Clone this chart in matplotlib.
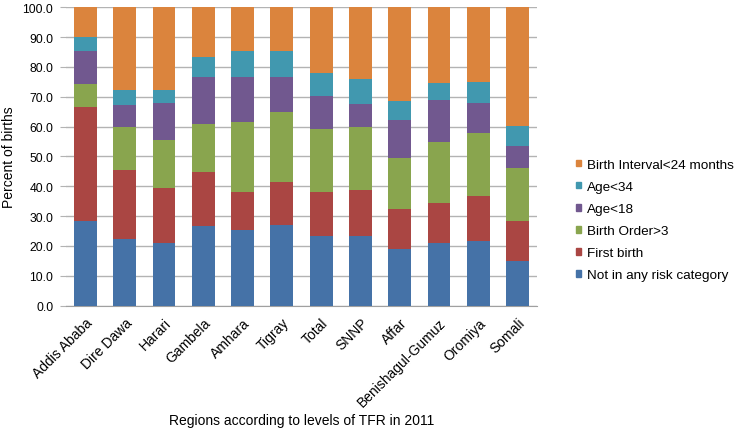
import numpy as np
import matplotlib
matplotlib.use('Agg')
import matplotlib.pyplot as plt
from matplotlib.patches import Patch

plt.rcParams['font.family'] = ['Liberation Sans', 'DejaVu Sans']

# regiones y valores (porcentaje de nacimientos)
regiones = ['Addis Ababa', 'Dire Dawa', 'Harari', 'Gambela', 'Amhara', 'Tigray', 'Total',
            'SNNP', 'Affar', 'Benishagul-Gumuz', 'Oromiya', 'Somali']
sin_riesgo = [28.5, 22.4, 20.9, 26.7, 25.5, 27.0, 23.3, 23.3, 19.0, 20.9, 21.8, 15.1]
primer = [38.0, 23.1, 18.4, 18.2, 12.5, 14.6, 14.7, 15.5, 13.4, 13.4, 15.1, 13.4]
orden = [7.8, 14.3, 16.3, 16.1, 23.5, 23.2, 21.3, 21.0, 17.1, 20.7, 20.9, 17.5]
edad18 = [11.2, 7.5, 12.4, 15.7, 15.2, 11.8, 11.1, 7.8, 12.8, 13.9, 10.1, 7.5]
edad34 = [4.7, 5.0, 4.3, 6.7, 8.8, 8.9, 7.6, 8.5, 6.2, 5.7, 7.0, 6.8]
intervalo = [9.8, 27.7, 27.7, 16.6, 14.5, 14.5, 22.0, 23.9, 31.5, 25.4, 25.1, 39.7]

series = [sin_riesgo, primer, orden, edad18, edad34, intervalo]
nombres = ['Not in any risk category', 'First birth', 'Birth Order>3', 'Age<18',
           'Age<34', 'Birth Interval<24 months']
colores = ['#4572A7', '#AA4643', '#89A54E', '#71588F', '#4198AF', '#DB843D']

fig = plt.figure(figsize=(7.39, 4.35), dpi=100)
ax = fig.add_axes([0.089, 0.295, 0.638, 0.686])

x = np.arange(len(regiones))
base = np.zeros(len(regiones))
for vals, nom, col in zip(series, nombres, colores):
    ax.bar(x, vals, 0.58, bottom=base, color=col, label=nom, zorder=3)
    base = base + np.array(vals)

ax.set_xlim(-0.5, len(regiones) - 0.5)
ax.set_ylim(0, 100)
ax.set_yticks(np.arange(0, 101, 10))
ax.set_yticklabels(['%.1f' % v for v in np.arange(0, 101, 10)], fontsize=8.7)
ax.set_xticks(x)
ax.set_xticklabels(regiones, rotation=45, ha='right', rotation_mode='anchor', fontsize=10)
ax.yaxis.grid(True, color='#b3b3b3', linewidth=1, zorder=0)
for s in ['top', 'right', 'left']:
    ax.spines[s].set_visible(False)
ax.spines['bottom'].set_color('#a0a0a0')
ax.tick_params(axis='x', length=0, pad=7)
ax.tick_params(axis='y', length=4, color='#b3b3b3', pad=5)
ax.set_ylabel('Percent of births', fontsize=10, va='center')
ax.yaxis.set_label_coords(-0.12, 0.5)
ax.set_xlabel('Regions according to levels of TFR in 2011', fontsize=10, va='center')
ax.xaxis.set_label_coords(0.5, -0.383)

handles = [Patch(color=c, label=n) for n, c in zip(nombres, colores)][::-1]
fig.legend(handles=handles, loc='center left', bbox_to_anchor=(0.7625, 0.492), frameon=False,
           fontsize=9.7, handlelength=0.4, handleheight=0.4, handletextpad=0.45, labelspacing=0.75)

fig.savefig('out.png', dpi=100)
